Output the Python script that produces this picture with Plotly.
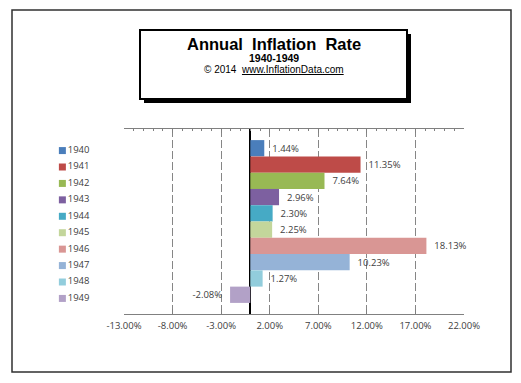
import plotly.graph_objects as go

years = ["1940", "1941", "1942", "1943", "1944", "1945", "1946", "1947", "1948", "1949"]
rates = [1.44, 11.35, 7.64, 2.96, 2.30, 2.25, 18.13, 10.23, 1.27, -2.08]
colors = ["#4A7EBB", "#BE4B48", "#98B954", "#7D60A0", "#46AAC5",
          "#C3D69B", "#D99694", "#95B3D7", "#92CDDC", "#B2A1C7"]
tick_vals = [-13, -8, -3, 2, 7, 12, 17, 22]
tick_text = ["-13.00%", "-8.00%", "-3.00%", "2.00%", "7.00%", "12.00%", "17.00%", "22.00%"]

W, H = 521, 383

def px(x):
    return x / W

def py(y):
    return (H - y) / H

LBL = "Open Sans"

def label(v):
    s = f"{v:.2f}%"
    return (s + "  ") if v < 0 else ("  " + s)

fig = go.Figure()
for yr, v, c in zip(years, rates, colors):
    fig.add_trace(go.Bar(
        x=[v], y=["decade"], orientation="h", name=yr,
        marker=dict(color=c, line=dict(width=0)),
        text=[label(v)], textposition="outside",
        textfont=dict(family=LBL, size=9.5, color="#404040"),
        cliponaxis=False, showlegend=False,
    ))

# legend drawn as a small categorical panel
fig.add_trace(go.Scatter(
    x=[0] * len(years), y=years, mode="markers+text",
    marker=dict(symbol="square", size=7, color=colors),
    text=years, textposition="middle right",
    textfont=dict(family=LBL, size=9.5, color="#404040"),
    xaxis="x3", yaxis="y3", showlegend=False, cliponaxis=False,
))
# dummy trace to activate the top axis
fig.add_trace(go.Scatter(x=[None], y=[None], xaxis="x2", yaxis="y", showlegend=False))

fig.update_layout(
    width=W, height=H, autosize=False,
    margin=dict(l=0, r=0, t=0, b=0, pad=0, autoexpand=False),
    paper_bgcolor="white", plot_bgcolor="white",
    barmode="group", bargap=0.12, bargroupgap=0,
    showlegend=False,
    xaxis=dict(domain=[px(124), px(464)], anchor="y", automargin=False,
               range=[-13, 22], tickvals=tick_vals, ticktext=tick_text,
               showgrid=True, gridcolor="#868686", griddash="8px,3px", gridwidth=1,
               zeroline=True, zerolinecolor="black", zerolinewidth=1.5,
               showline=True, linecolor="#808080", linewidth=1,
               ticks="inside", ticklen=5, tickcolor="#808080",
               ticklabelstandoff=3,
               tickfont=dict(family=LBL, size=9.5, color="#404040"),
               fixedrange=True),
    xaxis2=dict(range=[-13, 22], overlaying="x", side="top", anchor="y", automargin=False,
                showticklabels=False, showgrid=False, zeroline=False, fixedrange=True,
                tickvals=tick_vals, ticks="inside", ticklen=4, tickcolor="#808080",
                minor=dict(dtick=1, tick0=-13, ticks="inside", ticklen=2, tickcolor="#808080"),
                showline=True, linecolor="#808080", linewidth=1),
    yaxis=dict(domain=[py(314), py(129)], anchor="x", automargin=False, fixedrange=True,
               autorange="reversed", showticklabels=False, showgrid=False,
               zeroline=False, showline=False, ticks=""),
    xaxis3=dict(domain=[px(60), px(110)], anchor="y3", range=[-0.5, 10],
                visible=False, automargin=False, fixedrange=True),
    yaxis3=dict(domain=[py(311.5), py(137.5)], anchor="x3", automargin=False,
                autorange="reversed", visible=False, fixedrange=True),
    font=dict(family=LBL),
)

shapes = []
# outer frame
shapes.append(dict(type="rect", xref="paper", yref="paper",
                   x0=px(12), x1=px(511), y0=py(372), y1=py(10),
                   line=dict(color="#303030", width=1.5), layer="below"))
# title box shadow
shapes.append(dict(type="rect", xref="paper", yref="paper",
                   x0=px(144), x1=px(411), y0=py(103), y1=py(34),
                   fillcolor="black", line=dict(width=0)))
# title box
shapes.append(dict(type="rect", xref="paper", yref="paper",
                   x0=px(140), x1=px(407), y0=py(99), y1=py(30),
                   fillcolor="white", line=dict(color="black", width=2)))
fig.update_layout(shapes=shapes)

fig.add_annotation(x=px(274), y=py(44.5), xref="paper", yref="paper", showarrow=False,
                   xanchor="center", yanchor="middle",
                   text="<b>Annual  Inflation  Rate</b>",
                   font=dict(family="Liberation Sans", size=16.5, color="black"))
fig.add_annotation(x=px(274), y=py(58), xref="paper", yref="paper", showarrow=False,
                   xanchor="center", yanchor="middle",
                   text="<b>1940-1949</b>",
                   font=dict(family="Liberation Sans", size=10.5, color="black"))
fig.add_annotation(x=px(274), y=py(69), xref="paper", yref="paper", showarrow=False,
                   xanchor="center", yanchor="middle",
                   text="© 2014  <u>www.InflationData.com</u>",
                   font=dict(family="Liberation Sans", size=10, color="black"))

fig.write_html("out.html", post_script="document.body.style.margin='0';",
               config={"responsive": False, "displayModeBar": False})
